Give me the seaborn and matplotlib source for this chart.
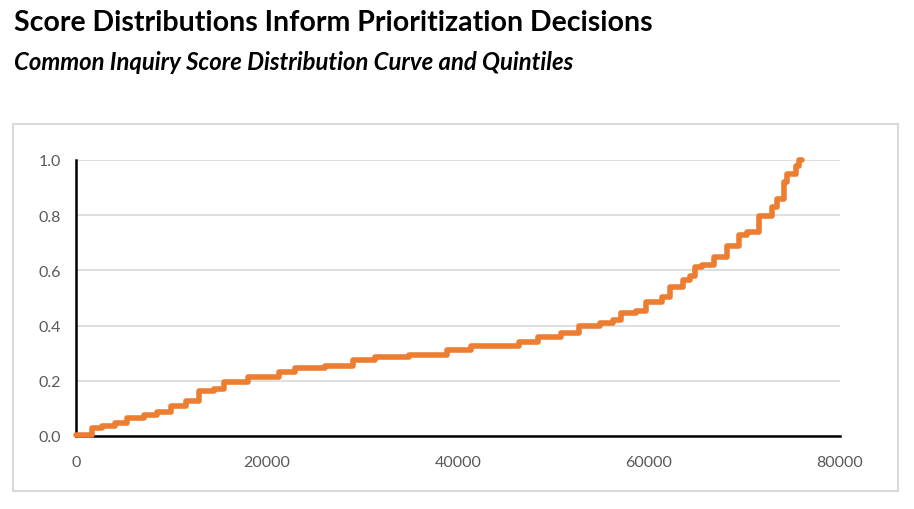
import pandas as pd
import seaborn as sns
import matplotlib.pyplot as plt
from matplotlib.patches import Rectangle

# Score distribution curve
inquiry_rank = [0, 1650, 2700, 4100, 5340, 7090, 8500, 9900, 11480, 12880,
                14460, 15510, 17970, 21300, 22880, 26040, 29030, 31300, 34820,
                38850, 41310, 46400, 48330, 50790, 52720, 54830, 56230, 57100,
                58690, 59670, 61320, 62200, 63600, 64300, 64830, 65530, 66760,
                68170, 69400, 70280, 71500, 72900, 73430, 74130, 74480, 75360,
                75710, 76060]
score = [0.004, 0.028, 0.035, 0.046, 0.066, 0.076, 0.088, 0.110, 0.128, 0.162,
         0.170, 0.197, 0.213, 0.231, 0.246, 0.255, 0.276, 0.285, 0.295,
         0.312, 0.327, 0.339, 0.360, 0.372, 0.400, 0.408, 0.421, 0.444,
         0.452, 0.484, 0.505, 0.539, 0.565, 0.581, 0.611, 0.620, 0.647,
         0.689, 0.728, 0.740, 0.798, 0.829, 0.859, 0.919, 0.949, 0.979,
         1.000, 1.000]

x_ticks = [0, 20000, 40000, 60000, 80000]
y_ticks = [0.0, 0.2, 0.4, 0.6, 0.8, 1.0]

df = pd.DataFrame({'rank': inquiry_rank, 'score': score})

sns.set_style('white')
plt.rcParams['font.family'] = ['Lato', 'DejaVu Sans']

fig = plt.figure(figsize=(9.14, 5.10), dpi=100)
ax = fig.add_axes([76 / 914, 1 - 437 / 510, 764 / 914, 276 / 510])

# chart area border
fig.patches.append(Rectangle((13 / 914, 1 - 492 / 510), 885 / 914, 367 / 510,
                             transform=fig.transFigure, fill=False,
                             edgecolor='#d9d9d9', linewidth=1.5))

sns.lineplot(data=df, x='rank', y='score', ax=ax, color='#ED7D31',
             linewidth=4, drawstyle='steps-post', clip_on=False, zorder=3,
             solid_capstyle='round', solid_joinstyle='round')

ax.set_xlim(0, 80000)
ax.set_ylim(0, 1.0)
ax.set_xticks(x_ticks)
ax.set_yticks(y_ticks)
ax.set_yticklabels([f'{v:.1f}' for v in y_ticks])
ax.set_xlabel('')
ax.set_ylabel('')
ax.grid(axis='y', color='#d9d9d9', linewidth=1.2)
ax.set_axisbelow(True)
for side in ['top', 'right']:
    ax.spines[side].set_visible(False)
for side in ['left', 'bottom']:
    ax.spines[side].set_color('black')
    ax.spines[side].set_linewidth(1.8)
ax.tick_params(axis='both', length=0, labelcolor='#595959', labelsize=11.5)
ax.tick_params(axis='y', pad=11)
ax.tick_params(axis='x', pad=14)

fig.text(14 / 914, 1 - 23 / 510, 'Score Distributions Inform Prioritization Decisions',
         fontsize=20.5, fontweight='bold', color='black', va='center', ha='left')
fig.text(14 / 914, 1 - 62 / 510, 'Common Inquiry Score Distribution Curve and Quintiles',
         fontsize=17.2, fontweight='bold', fontstyle='italic', color='black',
         va='center', ha='left')

fig.savefig('out.png', dpi=100)
